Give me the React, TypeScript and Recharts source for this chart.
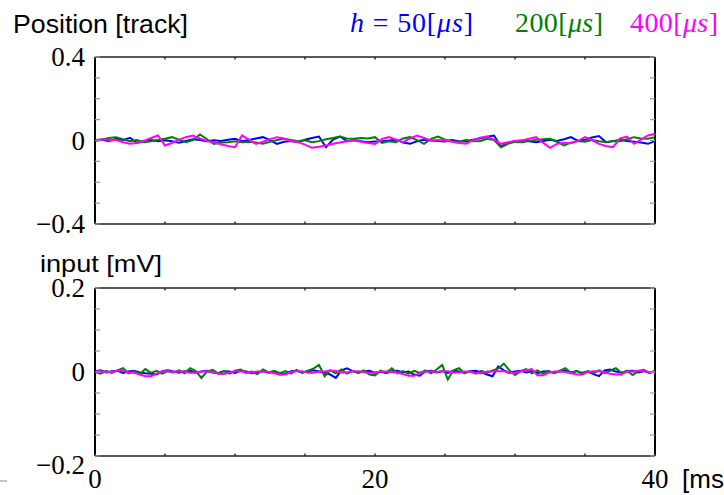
import React from 'react'
import { LineChart, Line, XAxis, YAxis, ReferenceLine } from 'recharts'

// position [track], sampled every 0.5 ms
const posBlue = [
  0.000, 0.004, -0.003, 0.008, 0.002, 0.013, -0.011, -0.004, 0.002, -0.003,
  0.001, -0.004, -0.011, -0.002, 0.006, 0.002, -0.004, 0.001, -0.002, 0.004,
  0.008, -0.003, 0.002, 0.010, 0.016, 0.002, -0.016, -0.006, -0.002, -0.008,
  0.004, 0.012, 0.019, -0.032, 0.004, 0.019, -0.003, 0.002, -0.004, -0.008,
  -0.005, -0.003, 0.000, 0.004, -0.010, -0.016, -0.004, 0.003, 0.000, -0.003,
  -0.005, 0.002, -0.004, -0.005, 0.004, 0.010, 0.018, 0.024, -0.029, -0.012,
  -0.002, 0.000, -0.004, -0.008, -0.002, 0.003, -0.002, 0.006, 0.016, -0.002,
  0.004, 0.014, 0.021, -0.008, -0.003, 0.003, -0.002, -0.006, -0.010, -0.016,
  -0.003,
]
const posGreen = [
  -0.003, 0.004, 0.012, 0.016, 0.006, -0.003, 0.002, -0.008, -0.004, 0.003,
  0.008, 0.016, 0.004, -0.008, 0.002, 0.029, 0.006, -0.016, -0.010, -0.008,
  -0.004, -0.008, -0.006, -0.010, -0.016, -0.006, 0.002, 0.008, 0.003, -0.004,
  0.001, -0.008, -0.003, 0.006, 0.012, 0.019, 0.010, 0.008, 0.012, 0.010,
  0.016, -0.012, -0.004, -0.008, 0.010, 0.016, 0.002, -0.016, 0.008, 0.019,
  0.004, -0.003, -0.006, 0.002, -0.002, -0.003, 0.008, 0.002, -0.032, -0.016,
  -0.006, -0.008, -0.002, 0.003, 0.006, 0.008, -0.006, -0.024, -0.010, -0.003,
  -0.006, 0.002, -0.004, -0.008, -0.002, -0.003, 0.006, 0.016, 0.010, 0.008,
  0.016,
]
const posMagenta = [
  0.003, 0.006, 0.002, 0.003, -0.008, -0.016, -0.012, -0.002, 0.012, 0.024,
  -0.024, -0.012, 0.004, 0.016, 0.024, 0.010, -0.003, -0.010, -0.018, -0.026,
  -0.032, 0.024, 0.004, -0.016, -0.006, 0.006, 0.016, 0.010, -0.002, -0.008,
  -0.020, -0.035, -0.030, -0.024, -0.016, -0.010, -0.004, 0.000, -0.006, -0.012,
  -0.016, 0.008, 0.016, 0.004, -0.008, 0.010, 0.024, 0.012, 0.000, 0.002,
  0.000, -0.006, -0.012, -0.016, 0.002, 0.013, 0.019, 0.004, -0.016, -0.008,
  -0.002, 0.000, 0.008, 0.016, -0.010, -0.035, -0.016, -0.011, -0.013, -0.002,
  0.016, 0.002, -0.016, -0.026, -0.032, 0.010, 0.019, -0.016, 0.004, 0.024,
  0.032,
]

// input [mV], sampled every 0.4 ms
const inBlue = [
  0.002, 0.004, -0.001, 0.002, 0.003, -0.002, 0.001, 0.003, -0.001, -0.003,
  -0.004, -0.006, 0.002, 0.004, 0.001, -0.002, 0.002, 0.003, -0.002, 0.001,
  0.003, -0.001, -0.003, 0.002, 0.001, -0.002, 0.003, 0.001, -0.003, -0.001,
  0.002, -0.002, 0.001, -0.006, -0.004, 0.002, 0.003, -0.001, 0.002, 0.004,
  0.001, -0.002, -0.006, -0.014, 0.004, 0.009, 0.002, -0.002, 0.001, 0.003,
  -0.002, 0.001, -0.003, 0.002, 0.003, -0.001, 0.001, -0.006, -0.009, 0.002,
  0.003, -0.001, 0.002, -0.002, 0.003, 0.001, -0.002, 0.002, 0.003, -0.001,
  -0.006, -0.010, 0.013, 0.004, -0.002, 0.001, 0.003, -0.001, 0.002, -0.003,
  0.001, 0.002, -0.002, 0.001, 0.003, -0.001, 0.002, -0.002, 0.001, -0.005,
  -0.010, 0.004, 0.006, 0.001, -0.002, 0.002, 0.003, -0.001, 0.002, -0.002,
  0.001,
]
const inGreen = [
  0.000, -0.004, 0.003, -0.002, 0.004, 0.009, -0.003, 0.002, -0.005, 0.007,
  -0.002, 0.003, -0.004, 0.002, -0.001, 0.004, -0.003, 0.009, 0.002, -0.014,
  0.001, 0.005, -0.003, 0.002, -0.004, 0.003, 0.006, -0.002, 0.001, -0.005,
  0.006, -0.001, 0.003, -0.003, 0.002, -0.004, 0.005, -0.002, 0.003, 0.008,
  0.017, -0.010, 0.004, -0.003, 0.006, -0.004, 0.002, -0.002, 0.004, -0.006,
  -0.008, 0.003, -0.002, 0.009, -0.003, 0.002, -0.004, 0.003, -0.002, 0.004,
  -0.003, 0.006, 0.017, -0.018, 0.004, 0.009, -0.003, 0.002, -0.004, 0.003,
  -0.002, 0.004, 0.008, 0.020, 0.004, -0.007, 0.002, 0.007, -0.003, 0.004,
  -0.004, 0.002, -0.003, 0.003, 0.009, -0.002, 0.003, -0.004, 0.002, -0.003,
  0.004, -0.002, 0.003, 0.009, -0.002, 0.003, -0.007, 0.002, 0.005, -0.002,
  0.003,
]
const inMagenta = [
  0.002, 0.002, 0.000, 0.000, 0.003, 0.003, -0.002, -0.002, -0.006, -0.010,
  -0.010, -0.004, 0.002, 0.002, 0.000, 0.001, 0.001, -0.002, -0.002, 0.001,
  0.001, 0.000, -0.004, -0.005, -0.001, 0.002, 0.002, -0.001, -0.001, 0.001,
  0.001, 0.000, -0.003, -0.006, -0.006, 0.000, 0.002, 0.002, -0.002, -0.002,
  0.001, 0.001, 0.003, 0.003, -0.001, -0.001, 0.002, 0.002, 0.000, -0.002,
  -0.002, 0.001, 0.001, 0.000, -0.001, -0.005, -0.009, -0.009, -0.002, 0.001,
  0.001, 0.000, 0.002, 0.002, -0.001, -0.001, 0.001, 0.001, -0.003, -0.003,
  0.001, 0.001, 0.002, 0.002, -0.002, -0.002, 0.001, 0.004, 0.007, -0.008,
  -0.008, -0.002, 0.001, 0.001, 0.000, -0.003, -0.006, -0.006, 0.000, 0.002,
  0.002, -0.001, -0.004, -0.006, -0.006, 0.001, 0.001, 0.003, 0.003, -0.001,
  0.001,
]

const xTicks = [0, 5, 10, 15, 20, 25, 30, 35, 40]
const xLabels = [0, 20, 40]
const posTicks = [-0.4, -0.3, -0.2, -0.1, 0, 0.1, 0.2, 0.3, 0.4]
const posLabels = [-0.4, 0, 0.4]
const inTicks = [-0.2, -0.15, -0.1, -0.05, 0, 0.05, 0.1, 0.15, 0.2]
const inLabels = [-0.2, 0, 0.2]
const legendSteps = ['50', '200', '400']

const BLUE = '#0000ff'
const GREEN = '#008000'
const MAGENTA = '#ff00ff'
const SERIF = '"Liberation Serif", "DejaVu Serif", serif'
const SANS = '"Liberation Sans", Arial, sans-serif'

const LEFT = 95
const RIGHT = 655
const TOP1 = 57
const BOT1 = 224
const TOP2 = 288
const BOT2 = 456

const posData = posBlue.map((v, i) => ({ t: i * 0.5, blue: v, green: posGreen[i], magenta: posMagenta[i] }))
const inData = inBlue.map((v, i) => ({ t: i * 0.4, blue: v, green: inGreen[i], magenta: inMagenta[i] }))

const fmt = (v: number) => (v === 0 ? '0' : v < 0 ? `\u2212${Math.abs(v)}` : String(v))

const makeYTick = (labels: number[], minShift: number) => (props: any) => {
  const { y, payload } = props
  const v = payload.value
  return (
    <g>
      <line x1={LEFT} x2={LEFT + 5} y1={y} y2={y} stroke="#9a9a9a" strokeWidth={1.2} />
      <line x1={RIGHT - 5} x2={RIGHT} y1={y} y2={y} stroke="#9a9a9a" strokeWidth={1.2} />
      {labels.includes(v) && (
        <text
          x={85}
          y={y + 9 + (v === labels[0] ? minShift : 0)}
          textAnchor="end"
          fontFamily={SERIF}
          fontSize={27}
          fill="#000"
        >
          {fmt(v)}
        </text>
      )}
    </g>
  )
}

const makeXTick = (top: number, bottom: number, showLabels: boolean) => (props: any) => {
  const { x, payload } = props
  const v = payload.value
  return (
    <g>
      <line x1={x} x2={x} y1={top} y2={top + 2.5} stroke="#333" strokeWidth={1.5} />
      <line x1={x} x2={x} y1={bottom - 2.5} y2={bottom} stroke="#333" strokeWidth={1.5} />
      {showLabels && xLabels.includes(v) && (
        <text x={x} y={488} textAnchor="middle" fontFamily={SERIF} fontSize={27} fill="#000">
          {v}
        </text>
      )}
    </g>
  )
}

function Panel({ data, height, top, bottom, yTicks, yLabels, domain, showX, minShift }: any) {
  return (
    <LineChart
      width={724}
      height={height}
      data={data}
      margin={{ top, right: 724 - RIGHT, bottom: 0, left: 0 }}
    >
      <XAxis
        dataKey="t"
        type="number"
        domain={[0, 40]}
        ticks={xTicks}
        interval={0}
        height={height - bottom}
        tickLine={false}
        axisLine={{ stroke: '#222', strokeWidth: 1.5 }}
        tick={makeXTick(top, bottom, showX)}
      />
      <YAxis
        type="number"
        domain={domain}
        ticks={yTicks}
        interval={0}
        width={LEFT}
        tickLine={false}
        axisLine={{ stroke: '#000', strokeWidth: 2 }}
        tick={makeYTick(yLabels, minShift)}
      />
      <ReferenceLine y={domain[1]} stroke="#222" strokeWidth={1.5} />
      <ReferenceLine x={40} stroke="#000" strokeWidth={2} />
      <Line dataKey="blue" stroke={BLUE} strokeWidth={2} dot={false} isAnimationActive={false} />
      <Line dataKey="green" stroke={GREEN} strokeWidth={2} dot={false} isAnimationActive={false} />
      <Line dataKey="magenta" stroke={MAGENTA} strokeWidth={2} dot={false} isAnimationActive={false} />
    </LineChart>
  )
}

export default function App() {
  return (
    <div style={{ position: 'absolute', left: 0, top: 0, width: 724, height: 495, background: '#fff', overflow: 'hidden' }}>
      <div style={{ position: 'absolute', left: 0, top: 0 }}>
        <Panel data={posData} height={250} top={TOP1} bottom={BOT1} yTicks={posTicks} yLabels={posLabels} domain={[-0.4, 0.4]} showX={false} minShift={0} />
      </div>
      <div style={{ position: 'absolute', left: 0, top: 0 }}>
        <Panel data={inData} height={495} top={TOP2} bottom={BOT2} yTicks={inTicks} yLabels={inLabels} domain={[-0.2, 0.2]} showX minShift={9} />
      </div>
      <svg width={724} height={495} style={{ position: 'absolute', left: 0, top: 0, pointerEvents: 'none' }}>
        <text x={13} y={33} fontFamily={SANS} fontSize={25} textLength={175} lengthAdjust="spacingAndGlyphs">Position [track]</text>
        <text x={40} y={272} fontFamily={SANS} fontSize={24} textLength={122} lengthAdjust="spacingAndGlyphs">input [mV]</text>
        <text x={682} y={488} fontFamily={SANS} fontSize={26}>[ms]</text>
        <line x1={0} x2={7} y1={481} y2={481} stroke="#9a9a9a" strokeWidth={1.2} />
        <text x={350} y={32} fontFamily={SERIF} fontSize={28} fill={BLUE} textLength={123} lengthAdjust="spacing">
          <tspan fontStyle="italic">h</tspan> = {legendSteps[0]}[<tspan fontStyle="italic">μs</tspan>]
        </text>
        <text x={515} y={32} fontFamily={SERIF} fontSize={28} fill={GREEN} textLength={88} lengthAdjust="spacing">
          {legendSteps[1]}[<tspan fontStyle="italic">μs</tspan>]
        </text>
        <text x={630} y={32} fontFamily={SERIF} fontSize={28} fill={MAGENTA} textLength={88} lengthAdjust="spacing">
          {legendSteps[2]}[<tspan fontStyle="italic">μs</tspan>]
        </text>
      </svg>
    </div>
  )
}
